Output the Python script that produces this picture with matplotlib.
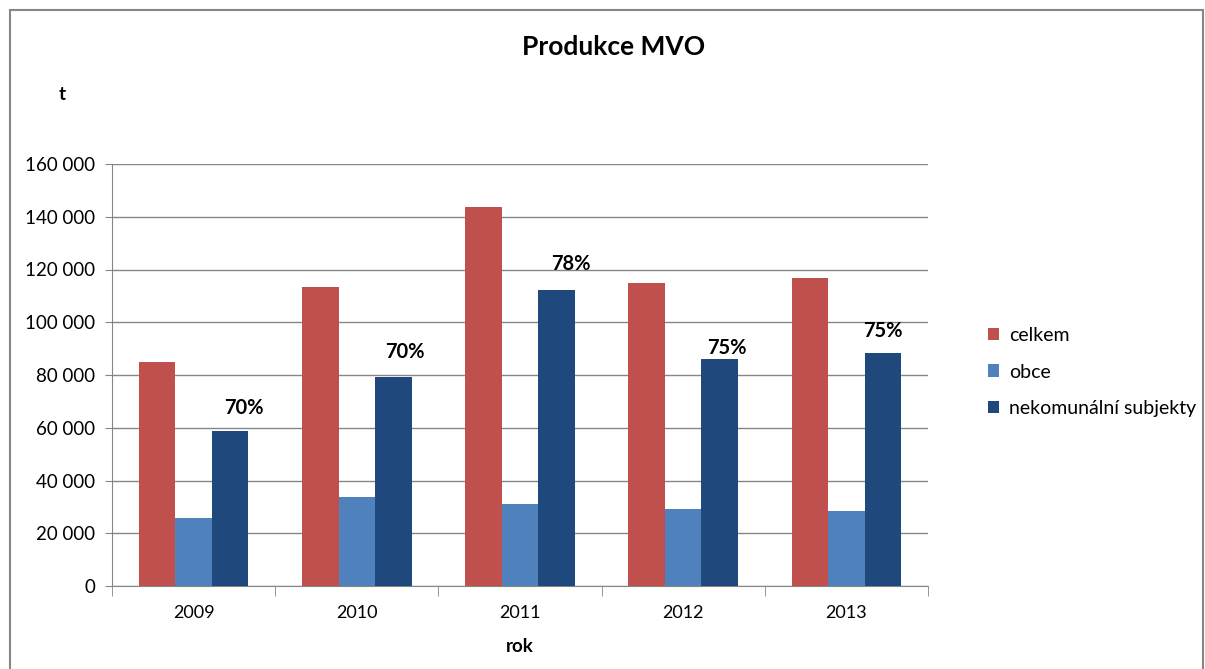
import matplotlib.pyplot as plt
import numpy as np
from matplotlib.patches import Rectangle
from matplotlib.ticker import FuncFormatter

plt.rcParams['font.family'] = ['Lato', 'DejaVu Sans']

years = ["2009", "2010", "2011", "2012", "2013"]
celkem = [84800, 113500, 143700, 115000, 116900]
obce = [25700, 33900, 31100, 29100, 28400]
nekomunalni = [58600, 79200, 112400, 85900, 88200]
share_labels = ["70%", "70%", "78%", "75%", "75%"]

series_names = ["celkem", "obce", "nekomunální subjekty"]
colors = ["#C0504D", "#4F81BD", "#1F497D"]

# manual nudges for the % labels (points), as in the original chart
label_dx = [10, 8, 10, 5, 0]
label_dy = [10, 11, 11, 1, 9]

fig = plt.figure(figsize=(12.05, 6.69), dpi=100)
ax = fig.add_axes([112 / 1205, 83 / 669, 816 / 1205, 422 / 669])

x = np.arange(len(years))
w = 0.224
for i, (vals, name, col) in enumerate(zip([celkem, obce, nekomunalni], series_names, colors)):
    ax.bar(x + (i - 1) * w, vals, width=w, color=col, label=name, zorder=3)

for xi, v, lab, dx, dy in zip(x, nekomunalni, share_labels, label_dx, label_dy):
    ax.annotate(lab, (xi + w, v), xytext=(dx, dy), textcoords="offset points",
                ha="center", va="bottom", fontsize=14.5, fontweight="bold")

ax.set_xlim(-0.5, len(years) - 0.5)
ax.set_ylim(0, 160000)
ax.set_yticks(np.arange(0, 160001, 20000))
ax.yaxis.set_major_formatter(FuncFormatter(lambda v, p: f"{int(v):,}".replace(",", " ")))
ax.set_xticks(x)
ax.set_xticklabels(years)
ax.set_xticks(np.arange(-0.5, len(years)), minor=True)
ax.tick_params(axis="x", which="major", length=0, labelsize=13, pad=14)
ax.tick_params(axis="x", which="minor", length=7, color="#868686", direction="out")
ax.tick_params(axis="y", length=5, color="#868686", labelsize=13.5, pad=7)

ax.grid(axis="y", color="#868686", linewidth=1, zorder=0)
for s in ["top", "right"]:
    ax.spines[s].set_visible(False)
for s in ["left", "bottom"]:
    ax.spines[s].set_color("#868686")

fig.text(614 / 1205, 1 - 47 / 669, "Produkce MVO", ha="center", va="center",
         fontsize=19, fontweight="bold")
fig.text(62 / 1205, 1 - 95 / 669, "t", ha="center", va="center", fontsize=13.5, fontweight="bold")
fig.text(520 / 1205, 1 - 647 / 669, "rok", ha="center", va="center", fontsize=13.5, fontweight="bold")

leg = ax.legend(loc="center left", bbox_to_anchor=(970 / 1205, 1 - 372 / 669),
                bbox_transform=fig.transFigure, frameon=False, fontsize=14,
                handlelength=0.6, handleheight=0.6, handletextpad=0.5, labelspacing=1.0)

fig.patches.append(Rectangle((10 / 1205, -0.05), 1193 / 1205, 1.05 - 10 / 669,
                             transform=fig.transFigure, fill=False,
                             edgecolor="#868686", linewidth=1.5))

fig.savefig("out.png", dpi=100)
